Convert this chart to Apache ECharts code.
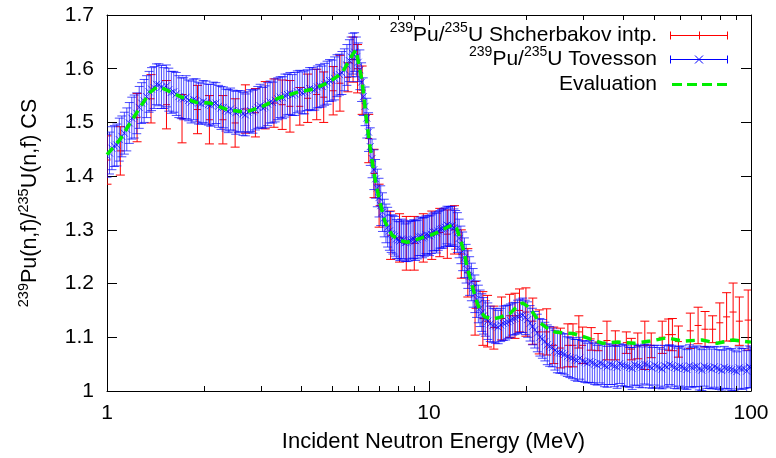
<!DOCTYPE html>
<html><head><meta charset="utf-8">
<script src="https://cdn.jsdelivr.net/npm/echarts@6/dist/echarts.min.js"></script>
<style>html,body{margin:0;padding:0;background:#fff}#c{width:776px;height:458px}</style>
</head><body><div id="c"></div>
<script>
// ---------- Shcherbakov (red) ----------
const shchE = [1.00,1.10,1.24,1.37,1.53,1.71,1.91,2.08,2.29,2.50,
  2.69,2.89,3.10,3.30,3.50,3.70,3.97,4.20,4.48,4.71,
  5.04,5.29,5.60,5.81,6.00,6.20,6.50,6.75,7.00,7.60,
  8.10,8.50,9.00,9.60,10.2,10.8,11.4,12.0,12.6,13.2,
  13.9,14.7,15.2,15.9,16.8,17.8,18.5,19.1,20.0,21.0,
  22.0,23.2,24.4,25.6,27.0,28.0,29.2,30.0,31.9,33.5,
  35.7,37.9,41.0,42.5,44.5,46.8,49.0,53.0,55.5,57.0,
  59.5,64.8,68.5,72.0,76.0,80.0,84.0,88.0,92.0,98.0];
const shchY = [1.430,1.447,1.509,1.544,1.533,1.507,1.524,1.505,1.505,1.499,
  1.525,1.518,1.532,1.536,1.533,1.530,1.530,1.545,1.552,1.547,
  1.559,1.573,1.584,1.617,1.600,1.560,1.470,1.405,1.345,1.290,
  1.285,1.275,1.275,1.285,1.290,1.295,1.292,1.300,1.255,1.220,
  1.154,1.135,1.130,1.118,1.135,1.140,1.140,1.150,1.147,1.130,
  1.110,1.110,1.085,1.080,1.085,1.085,1.110,1.085,1.097,1.091,
  1.094,1.085,1.090,1.078,1.084,1.085,1.085,1.100,1.105,1.105,
  1.092,1.112,1.122,1.115,1.115,1.127,1.138,1.147,1.130,1.132];
const shchErr = [0.045,0.045,0.045,0.045,0.045,0.045,0.045,0.045,0.045,0.045,
  0.045,0.045,0.044,0.045,0.046,0.048,0.035,0.045,0.047,0.047,
  0.045,0.052,0.027,0.042,0.045,0.045,0.045,0.045,0.040,0.045,
  0.045,0.050,0.050,0.045,0.045,0.045,0.045,0.045,0.045,0.045,
  0.050,0.050,0.048,0.040,0.040,0.040,0.042,0.040,0.045,0.043,
  0.041,0.043,0.034,0.037,0.040,0.040,0.030,0.034,0.021,0.016,
  0.036,0.027,0.020,0.020,0.024,0.045,0.023,0.030,0.029,0.030,
  0.029,0.033,0.034,0.033,0.025,0.037,0.045,0.054,0.045,0.056];

// ---------- Tovesson (blue) ----------
const tovE = [
  1.00,1.018,1.036,1.054,1.073,1.092,1.112,1.132,1.152,1.173,
  1.194,1.215,1.237,1.259,1.281,1.304,1.327,1.351,1.375,1.400,
  1.425,1.450,1.476,1.502,1.529,1.556,1.584,1.612,1.641,1.671,
  1.701,1.731,1.762,1.793,1.825,1.858,1.891,1.925,1.959,1.99,
  2.03,2.065,2.10,2.14,2.18,2.22,2.26,2.30,2.34,2.38,
  2.42,2.465,2.51,2.555,2.60,2.645,2.69,2.74,2.79,2.84,
  2.89,2.94,2.99,3.045,3.10,3.155,3.21,3.27,3.33,3.39,
  3.45,3.51,3.57,3.635,3.70,3.765,3.83,3.90,3.97,4.04,
  4.11,4.185,4.26,4.34,4.42,4.50,4.58,4.66,4.74,4.825,
  4.91,5.00,5.09,5.18,5.27,5.365,5.46,5.56,5.66,
  5.73,5.80,5.875,5.95,6.025,6.10,6.175,6.25,6.33,6.41,
  6.49,6.57,6.655,6.74,6.825,6.91,6.995,7.08,7.17,7.26,
  7.35,7.44,7.535,7.63,7.725,7.82,7.92,8.02,8.12,8.22,
  8.325,8.43,8.535,8.64,8.75,8.86,8.97,9.08,9.195,9.31,
  9.43,9.55,9.67,9.79,9.915,10.04,10.165,10.29,10.42,10.55,
  10.685,10.82,10.955,11.09,11.23,11.37,11.515,11.66,11.805,11.95,
  12.10,12.25,12.405,12.56,12.72,12.88,13.04,13.20,13.37,13.54,
  13.71,13.88,14.055,14.23,14.41,14.59,14.775,14.96,15.23,
  15.5,15.8,16.1,16.4,16.7,17.0,17.3,17.6,17.9,18.2,
  18.5,18.85,19.2,19.55,19.9,20.25,20.6,20.95,21.3,21.7,
  22.1,22.5,22.9,23.3,23.7,24.15,24.6,25.05,25.5,25.95,
  26.4,26.9,27.4,27.9,28.4,28.9,29.4,29.95,30.5,31.05,
  31.6,32.15,32.7,33.3,33.9,34.5,35.1,35.75,36.4,37.05,
  37.7,38.4,39.1,39.8,40.5,41.25,42.0,42.75,43.5,44.3,
  45.1,45.9,46.7,47.55,48.4,49.3,50.2,51.1,52.0,52.95,
  53.9,54.85,55.8,56.85,57.9,58.95,60.0,61.05,62.1,63.25,
  64.4,65.55,66.7,67.9,69.1,70.35,71.6,72.9,74.2,75.55,
  76.9,78.3,79.7,81.15,82.6,84.1,85.6,87.15,88.7,90.3,
  91.9,93.55,95.2,96.95,98.7,99.6];
const tovY = [
  1.438,1.443,1.452,1.456,1.458,1.468,1.474,1.480,1.487,1.499,
  1.508,1.511,1.517,1.528,1.536,1.540,1.548,1.557,1.562,1.565,
  1.571,1.570,1.566,1.564,1.568,1.561,1.556,1.557,1.553,1.548,
  1.545,1.544,1.547,1.541,1.538,1.543,1.541,1.536,1.535,1.539,
  1.537,1.533,1.532,1.535,1.536,1.530,1.527,1.528,1.523,1.521,
  1.525,1.522,1.518,1.520,1.521,1.516,1.514,1.519,1.522,1.520,
  1.524,1.528,1.531,1.527,1.529,1.534,1.538,1.537,1.541,1.544,
  1.547,1.546,1.550,1.552,1.554,1.551,1.553,1.557,1.559,1.555,
  1.556,1.560,1.563,1.562,1.561,1.566,1.568,1.567,1.571,1.574,
  1.578,1.578,1.582,1.587,1.589,1.592,1.598,1.607,1.615,
  1.622,1.628,1.631,1.622,1.612,1.598,1.575,1.548,1.530,1.508,
  1.482,1.455,1.433,1.412,1.395,1.378,1.360,1.345,1.333,1.322,
  1.312,1.305,1.298,1.293,1.291,1.288,1.283,1.281,1.279,1.283,
  1.282,1.276,1.277,1.279,1.280,1.282,1.283,1.280,1.282,1.287,
  1.288,1.285,1.287,1.291,1.290,1.289,1.292,1.296,1.297,1.294,
  1.298,1.301,1.302,1.303,1.305,1.309,1.307,1.306,1.308,1.304,
  1.300,1.295,1.284,1.272,1.260,1.248,1.237,1.226,1.214,1.203,
  1.192,1.181,1.171,1.162,1.154,1.146,1.140,1.135,1.130,
  1.125,1.122,1.121,1.119,1.123,1.126,1.127,1.129,1.131,1.134,
  1.135,1.138,1.140,1.141,1.137,1.133,1.126,1.120,1.114,1.108,
  1.100,1.097,1.092,1.086,1.083,1.081,1.076,1.072,1.071,1.070,
  1.068,1.064,1.062,1.061,1.058,1.057,1.061,1.056,1.054,1.052,
  1.055,1.053,1.050,1.048,1.052,1.051,1.047,1.045,1.050,1.049,
  1.046,1.044,1.051,1.048,1.047,1.046,1.044,1.042,1.049,1.047,
  1.046,1.044,1.050,1.049,1.045,1.043,1.048,1.046,1.043,1.041,
  1.047,1.045,1.049,1.047,1.044,1.042,1.046,1.045,1.042,1.040,
  1.047,1.044,1.045,1.046,1.041,1.039,1.046,1.044,1.043,1.041,
  1.045,1.043,1.040,1.038,1.044,1.042,1.041,1.040,1.038,1.036,
  1.043,1.041,1.042,1.037,1.045,1.044];
const tovErr = [
  0.040,0.039,0.040,0.038,0.039,0.040,0.038,0.039,0.040,0.038,
  0.039,0.040,0.038,0.039,0.038,0.040,0.039,0.038,0.040,0.039,
  0.038,0.039,0.040,0.038,0.039,0.040,0.039,0.038,0.040,0.039,
  0.038,0.039,0.040,0.038,0.039,0.038,0.040,0.039,0.038,0.039,
  0.040,0.038,0.039,0.040,0.038,0.039,0.040,0.038,0.039,0.040,
  0.039,0.038,0.040,0.039,0.038,0.040,0.039,0.038,0.039,0.040,
  0.038,0.039,0.040,0.038,0.039,0.040,0.039,0.038,0.040,0.039,
  0.038,0.039,0.040,0.038,0.039,0.038,0.040,0.039,0.038,0.039,
  0.040,0.038,0.039,0.040,0.038,0.039,0.040,0.038,0.039,0.040,
  0.039,0.038,0.040,0.039,0.038,0.040,0.039,0.038,0.039,
  0.037,0.038,0.036,0.037,0.036,0.037,0.036,0.035,0.036,0.037,
  0.036,0.035,0.036,0.037,0.036,0.035,0.036,0.037,0.036,0.035,
  0.036,0.037,0.036,0.035,0.036,0.037,0.036,0.035,0.036,0.037,
  0.036,0.035,0.036,0.037,0.036,0.035,0.036,0.037,0.036,0.035,
  0.036,0.037,0.036,0.035,0.036,0.037,0.036,0.035,0.036,0.037,
  0.036,0.035,0.036,0.037,0.036,0.035,0.036,0.037,0.036,0.035,
  0.036,0.037,0.036,0.035,0.036,0.037,0.036,0.035,0.036,0.035,
  0.036,0.035,0.034,0.035,0.034,0.035,0.034,0.033,0.034,
  0.033,0.032,0.032,0.031,0.031,0.032,0.032,0.031,0.031,0.030,
  0.030,0.031,0.031,0.032,0.032,0.033,0.033,0.034,0.034,0.035,
  0.035,0.036,0.036,0.037,0.037,0.036,0.037,0.038,0.038,0.037,
  0.038,0.037,0.037,0.038,0.038,0.039,0.039,0.038,0.038,0.037,
  0.039,0.038,0.038,0.037,0.037,0.039,0.039,0.038,0.038,0.037,
  0.038,0.039,0.037,0.038,0.039,0.038,0.037,0.039,0.038,0.037,
  0.039,0.038,0.037,0.038,0.039,0.038,0.037,0.039,0.038,0.037,
  0.038,0.039,0.037,0.038,0.039,0.038,0.037,0.039,0.038,0.037,
  0.039,0.038,0.037,0.038,0.039,0.038,0.037,0.039,0.038,0.037,
  0.038,0.039,0.037,0.038,0.039,0.038,0.037,0.039,0.038,0.037,
  0.039,0.038,0.037,0.038,0.039,0.038];

// ---------- Evaluation (green) ----------
const evalE = [1.00,1.10,1.18,1.27,1.36,1.43,1.51,1.69,1.90,2.09,
  2.36,2.68,3.03,3.40,3.84,4.36,4.86,5.37,5.77,5.93,
  6.19,6.30,6.37,6.56,6.70,6.85,7.05,7.30,7.68,8.13,
  8.55,9.05,9.58,10.2,10.8,11.4,11.9,12.2,12.5,12.9,
  13.1,13.4,13.7,14.1,14.4,14.9,15.8,16.6,17.9,18.6,
  19.5,20.2,20.9,22.1,23.3,24.6,26.5,28.0,31.0,34.5,
  38.6,43.6,48.6,54.8,61.5,70.4,78.4,87.9,100];
const evalY = [1.440,1.469,1.499,1.529,1.556,1.566,1.562,1.548,1.537,1.536,
  1.524,1.519,1.529,1.545,1.555,1.562,1.574,1.592,1.625,1.635,
  1.579,1.540,1.512,1.455,1.417,1.384,1.350,1.315,1.290,1.280,
  1.277,1.281,1.286,1.291,1.297,1.305,1.310,1.302,1.283,1.255,
  1.232,1.212,1.190,1.165,1.150,1.138,1.134,1.137,1.145,1.155,
  1.164,1.158,1.148,1.127,1.117,1.110,1.108,1.107,1.099,1.089,
  1.091,1.089,1.093,1.099,1.093,1.095,1.089,1.095,1.091];

// ---------- axes / legend ----------
const xMin = 1, xMax = 100;
const xMinorTicks = [2,3,4,5,6,7,8,9,20,30,40,50,60,70,80,90];
const yMin = 1, yMax = 1.7, yStep = 0.1;
const legendLabels = [
  '{s|239}{n|Pu/}{s|235}{n|U Shcherbakov intp.}',
  '{s|239}{n|Pu/}{s|235}{n|U Tovesson}',
  '{n|Evaluation}'
];

const FONT = "'Liberation Sans', Arial, Helvetica, sans-serif";
const RED = '#ff0000', BLUE = '#0000ff', GREEN = '#00ee00';

function zip3(a, b, c) { return a.map((v, i) => [v, b[i], c[i]]); }

function seg(x1, y1, x2, y2, color, w, opacity, dash) {
  const s = { stroke: color, lineWidth: w || 1, fill: null, opacity: opacity == null ? 1 : opacity };
  if (dash) s.lineDash = dash;
  return { type: 'line', shape: { x1, y1, x2, y2 }, style: s };
}

function errBars(color, marker, opacity) {
  return function (params, api) {
    const x = api.value(0), y = api.value(1), e = api.value(2);
    const c = api.coord([x, y]);
    const t = api.coord([x, y + e]);
    const b = api.coord([x, y - e]);
    const cw = 4.5, m = 3.5;
    const ch = [
      seg(c[0], t[1], c[0], b[1], color, 1, opacity),
      seg(c[0] - cw, t[1], c[0] + cw, t[1], color, 1, opacity),
      seg(c[0] - cw, b[1], c[0] + cw, b[1], color, 1, opacity)
    ];
    if (marker === '+') {
      ch.push(seg(c[0] - m, c[1], c[0] + m, c[1], color, 1, opacity));
    } else {
      ch.push(seg(c[0] - m, c[1] - m, c[0] + m, c[1] + m, color, 1, opacity));
      ch.push(seg(c[0] - m, c[1] + m, c[0] + m, c[1] - m, color, 1, opacity));
    }
    return { type: 'group', children: ch };
  };
}

function minorTicks(params, api) {
  const p = api.coord([api.value(0), yMin]);
  const cs = params.coordSys;
  const xx = Math.round(p[0]) + 0.5;
  return { type: 'group', children: [
    seg(xx, cs.y + cs.height, xx, cs.y + cs.height - 5, '#000', 1, 1),
    seg(xx, cs.y, xx, cs.y + 5, '#000', 1, 1)
  ] };
}

// legend sample icons (drawn by a custom series, pixel layout of the key)
const lx1 = 670, lx2 = 728, lxm = 699, legTextX = 657;
const rows = [35.5, 59.5, 84.5];
function legendIcons(params, api) {
  const i = api.value(0);
  const y = rows[i];
  if (i === 2) {
    return { type: 'group', children: [seg(lx1 + 2, y, lx2, y, GREEN, 3, 1, [10, 5])] };
  }
  const color = i === 0 ? RED : BLUE;
  const ch = [
    seg(lx1, y, lx2, y, color, 1, 1),
    seg(lx1 + 0.5, y - 4, lx1 + 0.5, y + 4, color, 1, 1),
    seg(lx2 - 0.5, y - 4, lx2 - 0.5, y + 4, color, 1, 1)
  ];
  if (i === 0) ch.push(seg(lxm + 0.5, y - 4, lxm + 0.5, y + 4, color, 1, 1));
  else {
    ch.push(seg(lxm - 4, y - 4, lxm + 4, y + 4, color, 1, 1));
    ch.push(seg(lxm - 4, y + 4, lxm + 4, y - 4, color, 1, 1));
  }
  return { type: 'group', children: ch };
}

const richMain = {
  n: { fontSize: 21.5, lineHeight: 29, fontFamily: FONT, color: '#000' },
  s: { fontSize: 14.5, lineHeight: 15, verticalAlign: 'top', fontFamily: FONT, color: '#000' }
};
const richGraphic = {
  n: { fontSize: 21, lineHeight: 28, fontFamily: FONT, fill: '#000' },
  s: { fontSize: 14, lineHeight: 14, verticalAlign: 'top', fontFamily: FONT, fill: '#000' }
};

function axisCommon() {
  return {
    axisLine: { show: true, onZero: false, lineStyle: { color: '#000', width: 1 } },
    axisTick: { show: true, inside: true, length: 10, lineStyle: { color: '#000', width: 1 } },
    splitLine: { show: false }
  };
}

const chart = echarts.init(document.getElementById('c'), null, { renderer: 'canvas' });
chart.setOption({
  animation: false,
  backgroundColor: '#fff',
  grid: { left: 107, right: 25, top: 15, bottom: 67, show: false },
  xAxis: [
    Object.assign({
      type: 'log', logBase: 10, min: xMin, max: xMax, position: 'bottom',
      axisLabel: { fontSize: 21, fontFamily: FONT, color: '#000', margin: 12 },
      name: 'Incident Neutron Energy (MeV)', nameLocation: 'middle', nameGap: 40,
      nameTextStyle: { fontSize: 22, fontFamily: FONT, color: '#000', padding: [0, 0, 0, 9] }
    }, axisCommon()),
    Object.assign({
      type: 'log', logBase: 10, min: xMin, max: xMax, position: 'top',
      axisLabel: { show: false }
    }, axisCommon())
  ],
  yAxis: [
    Object.assign({
      type: 'value', min: yMin, max: yMax, interval: yStep, position: 'left',
      axisLabel: { fontSize: 21, fontFamily: FONT, color: '#000', margin: 13,
        formatter: v => String(Number(v.toFixed(1))) },
      name: '{s|239}{n|Pu(n,f)/}{s|235}{n|U(n,f) CS}', nameLocation: 'middle', nameGap: 62,
      nameTextStyle: { color: '#000', rich: richMain }
    }, axisCommon()),
    Object.assign({
      type: 'value', min: yMin, max: yMax, interval: yStep, position: 'right',
      axisLabel: { show: false }
    }, axisCommon())
  ],
  series: [
    { type: 'custom', name: 'Shcherbakov', xAxisIndex: 0, yAxisIndex: 0, z: 2, clip: true,
      renderItem: errBars(RED, '+', 1), encode: { x: 0, y: 1 },
      data: zip3(shchE, shchY, shchErr) },
    { type: 'custom', name: 'Tovesson', xAxisIndex: 0, yAxisIndex: 0, z: 3, clip: true,
      renderItem: errBars(BLUE, 'x', 0.7), encode: { x: 0, y: 1 },
      data: zip3(tovE, tovY, tovErr) },
    { type: 'line', name: 'Evaluation', xAxisIndex: 0, yAxisIndex: 0, z: 4,
      symbol: 'none', smooth: false,
      lineStyle: { color: GREEN, width: 3.5, type: [9, 6] },
      data: evalE.map((e, i) => [e, evalY[i]]) },
    { type: 'custom', name: 'minor', xAxisIndex: 0, yAxisIndex: 0, z: 5,
      renderItem: minorTicks, encode: { x: 0, y: 1 },
      data: xMinorTicks.map(v => [v, yMin]) },
    { type: 'custom', name: 'key', coordinateSystem: 'none', z: 10,
      renderItem: legendIcons, data: [[0], [1], [2]] }
  ],
  graphic: legendLabels.map((t, i) => ({
    type: 'text', x: legTextX, y: rows[i], z: 10,
    style: { text: t, align: 'right', verticalAlign: 'middle', rich: richGraphic }
  }))
});
</script>
</body></html>
